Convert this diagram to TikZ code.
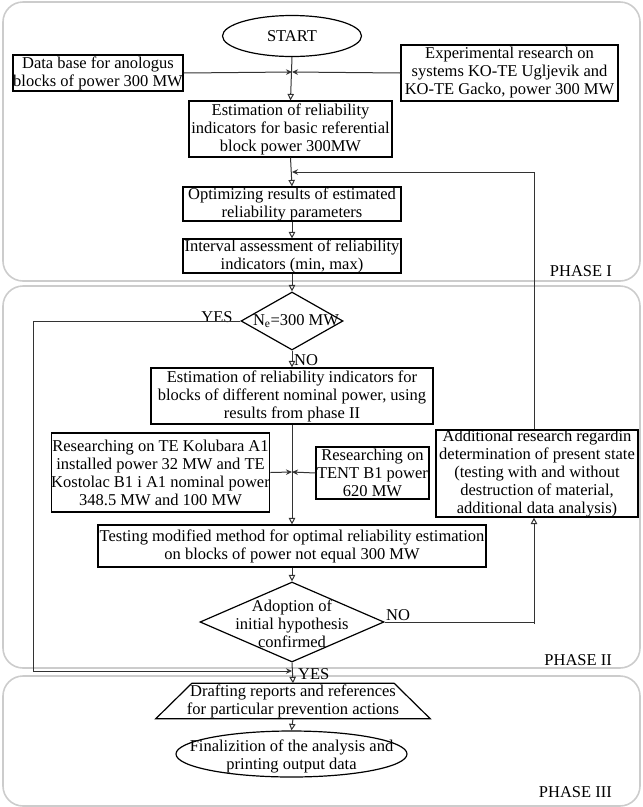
\documentclass[tikz,border=0pt]{standalone}
\usepackage{fontspec}
\setmainfont{Liberation Serif}
\usetikzlibrary{shapes.geometric,arrows.meta}
\begin{document}
\begin{tikzpicture}[x=1pt,y=-1pt,
  txt/.style={font=\fontsize{16.5}{18}\selectfont, align=center, inner sep=0pt},
  box/.style={txt, draw, line width=1.2pt},
  panel/.style={draw=black!20, line width=1.6pt, rounded corners=20pt},
  conn/.style={draw=black!80, line width=1pt},
  arr/.style={conn, -{Triangle[open,length=6.5pt,width=6.5pt]}},
  jarr/.style={conn, -{Stealth[length=6pt,width=5.5pt]}},
  lbl/.style={font=\fontsize{16.5}{18}\selectfont, inner sep=0pt}]
\useasboundingbox (0,0) rectangle (643,807);
% panels
\draw[panel] (3,2) rectangle (640,281);
\draw[panel] (3,286) rectangle (640,668);
\draw[panel] (3,676) rectangle (640,806);
\node[lbl, anchor=east] (ph1) at (612,271) {PHASE I};
\node[lbl, anchor=east] (ph2) at (612,660) {PHASE II};
\node[lbl, anchor=east] (ph3) at (612,792) {PHASE III};
% nodes
\node[box, ellipse, minimum width=139, minimum height=41] (start) at (292,36) {START};
\node[box, minimum width=170, minimum height=36] (db) at (98,73) {Data base for anologus\\blocks of power 300 MW};
\node[box, minimum width=217, minimum height=56] (exp) at (509.5,73) {Experimental research on\\systems KO-TE Ugljevik and\\KO-TE Gacko, power 300 MW};
\coordinate (J1) at (292,72);
\node[box, minimum width=203, minimum height=56] (est1) at (290.5,129) {Estimation of reliability\\indicators for basic referential\\block power 300MW};
\coordinate (J2) at (292,172);
\node[box, minimum width=218, minimum height=34] (opt) at (292,204) {Optimizing results of estimated\\reliability parameters};
\node[box, minimum width=218, minimum height=34] (int) at (292,256) {Interval assessment of reliability\\indicators (min, max)};
\node[draw, line width=1.2pt, diamond, minimum width=102, minimum height=58, inner sep=0pt] (ne) at (292,321) {};
\node[txt] (netext) at (296,321) {N\textsubscript{e}=300 MW};
\node[box, minimum width=282, minimum height=56] (est2) at (292,396) {Estimation of reliability indicators for\\blocks of different nominal power, using\\results from phase II};
\node[box, minimum width=215, minimum height=79] (kol) at (160.5,472.5) {Researching on TE Kolubara A1\\installed power 32 MW and TE\\Kostolac B1 i A1 nominal power\\348.5 MW and 100 MW};
\node[box, minimum width=113, minimum height=52] (tent) at (372.5,473) {Researching on\\TENT B1 power\\620 MW};
\coordinate (J3) at (292,472);
\node[box, minimum width=202, minimum height=87] (add) at (537,473.5) {Additional research regardin\\determination of present state\\(testing with and without\\destruction of material,\\additional data analysis)};
\node[box, minimum width=388, minimum height=42] (test) at (292,546) {Testing modified method for optimal reliability estimation\\on blocks of power not equal 300 MW};
\node[draw, line width=1.2pt, diamond, minimum width=184, minimum height=80, inner sep=0pt] (adopt) at (292,622) {};
\node[txt] (adtext) at (292,624) {Adoption of\\initial hypothesis\\confirmed};
\coordinate (J4) at (292,671);
\node[txt, minimum width=274, minimum height=35] (draft) at (293,701) {Drafting reports and references\\for particular prevention actions};
\draw[line width=1.2pt] (draft.south west) -- (draft.south east) -- ([xshift=-36pt]draft.north east) -- ([xshift=36pt]draft.north west) -- cycle;
\node[draw, line width=1.2pt, ellipse, minimum width=231, minimum height=46, inner sep=0pt] (final) at (291.5,754) {};
\node[txt] (fintext) at (291.5,756) {Finalizition of the analysis and\\printing output data};
% labels
\node[lbl] (yes1) at (217,317) {YES};
\node[lbl, anchor=west] (no1) at (294,360) {NO};
\node[lbl] (no2) at (398,615) {NO};
\node[lbl, anchor=west] (yes2) at (298,674) {YES};
% connectors
\draw[arr] (start.south) -- (est1.north);
\draw[jarr] (db.east) -- (J1);
\draw[jarr] (exp.west) -- (J1);
\draw[arr] (est1.south) -- (opt.north);
\coordinate (fbTop) at (534,172);
\coordinate (fbRight) at (534,624);
\draw[jarr] (add.north -| fbTop) -- (fbTop) -- (J2);
\draw[arr] (opt.south) -- (int.north);
\draw[arr] (int.south) -- (ne.north);
\coordinate (yl) at (33,321);
\coordinate (yb) at (33,671);
\draw[jarr] (ne.west) -- (yl) -- (yb) -- (J4);
\draw[arr] (ne.south) -- (est2.north);
\draw[arr] (est2.south) -- (test.north);
\draw[jarr] (kol.east) -- (J3);
\draw[jarr] (tent.west) -- (J3);
\draw[arr] (test.south) -- (adopt.north);
\draw[conn] (adopt.east) -- (adopt.east -| fbRight) -- (fbRight);
\draw[arr] (fbRight) -- (add.south -| fbRight);
\draw[arr] (adopt.south) -- (draft.north);
\draw[arr] (draft.south) -- (final.north);
\end{tikzpicture}
\end{document}
